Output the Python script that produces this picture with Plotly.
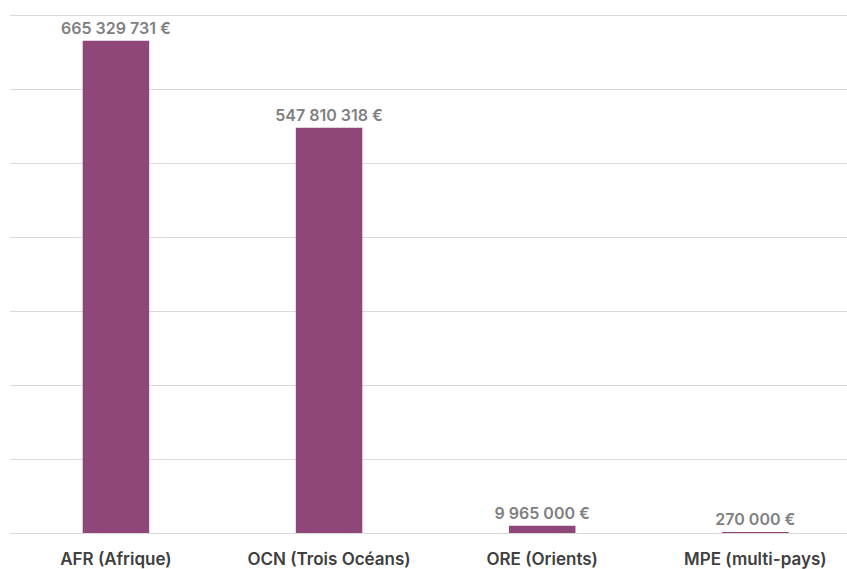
import plotly.graph_objects as go

# Montants par zone géographique (en euros)
categories = ["AFR (Afrique)", "OCN (Trois Océans)", "ORE (Orients)", "MPE (multi-pays)"]
montants = [665329731, 547810318, 9965000, 270000]


def fmt_eur(v):
    # séparateur de milliers : espace
    return f"{v:,}".replace(",", " ") + " €"


labels = [fmt_eur(v) for v in montants]

fig = go.Figure(
    go.Bar(
        x=categories,
        y=montants,
        text=labels,
        textposition="outside",
        constraintext="none",
        cliponaxis=False,
        width=0.312,
        marker=dict(color="#8F477A", line=dict(width=0)),
        textfont=dict(family="Inter", size=16, color="#7F7F7F", weight=600),
        hoverinfo="skip",
    )
)

fig.update_layout(
    width=847,
    height=569,
    margin=dict(l=10, r=0, t=14, b=36),
    paper_bgcolor="white",
    plot_bgcolor="white",
    showlegend=False,
    xaxis=dict(
        range=[-0.497, 3.43],
        showgrid=False,
        zeroline=False,
        showline=False,
        ticks="",
        ticklabelstandoff=14,
        tickfont=dict(family="Inter", size=17, color="#404040", weight=600),
    ),
    yaxis=dict(
        range=[0, 701.5e6],
        tickvals=[i * 100e6 for i in range(8)],
        showgrid=True,
        gridcolor="#D9D9D9",
        gridwidth=1,
        zeroline=True,
        zerolinecolor="#D9D9D9",
        zerolinewidth=1,
        showticklabels=False,
        ticks="",
    ),
)

fig.write_html("out.html")
